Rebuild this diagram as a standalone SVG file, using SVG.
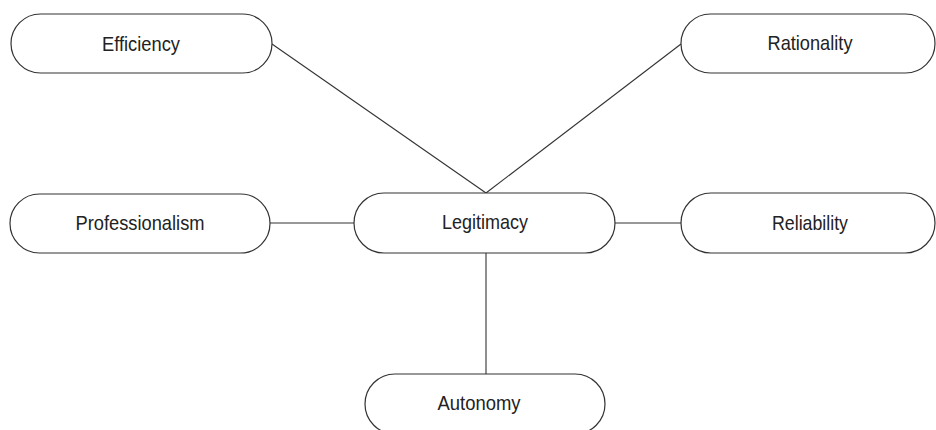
<svg xmlns="http://www.w3.org/2000/svg" width="936" height="430" viewBox="0 0 936 430">
<style>
.n{fill:#fff;stroke:#333;stroke-width:1.2}
.t{font-family:"Liberation Sans",Arial,sans-serif;font-size:21px;fill:#222;text-anchor:middle}
.c{stroke:#333;stroke-width:1.1;fill:none}
</style>
<rect width="936" height="430" fill="#fff"/>
<g id="connectors">
<line class="c" x1="272" y1="44" x2="486" y2="193"/>
<line class="c" x1="681" y1="44" x2="486" y2="193"/>
<line class="c" x1="270" y1="223" x2="354" y2="223"/>
<line class="c" x1="615" y1="223" x2="681" y2="223"/>
<line class="c" x1="486" y1="253" x2="486" y2="374"/>
</g>
<g id="efficiency"><rect class="n" x="11" y="14" width="261" height="59" rx="29.5"/><text class="t" x="141" y="51" textLength="78" lengthAdjust="spacingAndGlyphs">Efficiency</text></g>
<g id="rationality"><rect class="n" x="681" y="14" width="254" height="59" rx="29.5"/><text class="t" x="810" y="50" textLength="85" lengthAdjust="spacingAndGlyphs">Rationality</text></g>
<g id="professionalism"><rect class="n" x="10" y="194" width="260" height="59" rx="29.5"/><text class="t" x="140" y="230" textLength="129" lengthAdjust="spacingAndGlyphs">Professionalism</text></g>
<g id="legitimacy"><rect class="n" x="354" y="193" width="261" height="60" rx="30"/><text class="t" x="485" y="229" textLength="86" lengthAdjust="spacingAndGlyphs">Legitimacy</text></g>
<g id="reliability"><rect class="n" x="681" y="193" width="254" height="60" rx="30"/><text class="t" x="810" y="230" textLength="76" lengthAdjust="spacingAndGlyphs">Reliability</text></g>
<g id="autonomy"><rect class="n" x="365" y="374" width="240" height="60" rx="30"/><text class="t" x="479" y="410" textLength="83" lengthAdjust="spacingAndGlyphs">Autonomy</text></g>
</svg>
